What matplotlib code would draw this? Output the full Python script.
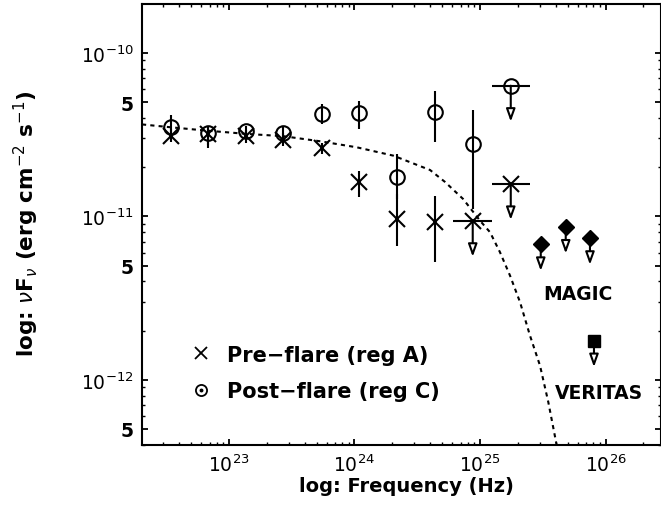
import numpy as np
import matplotlib
matplotlib.use('Agg')
import matplotlib.pyplot as plt
from matplotlib.ticker import FixedLocator, LogLocator, NullFormatter

# values: log10(frequency / Hz), flux in units of 1e-11 erg cm^-2 s^-1
pre_lognu = [22.535, 22.835, 23.135, 23.433, 23.739, 24.036, 24.336, 24.641]
pre_flux = [3.12, 3.20, 3.12, 2.95, 2.61, 1.62, 0.966, 0.92]
pre_hi = [3.43, 3.43, 3.38, 3.24, 2.82, 1.905, 1.375, 1.34]
pre_lo = [2.86, 2.62, 2.82, 2.70, 2.41, 1.31, 0.661, 0.525]
pre_ul_lognu = [24.942, 25.245]
pre_ul_flux = [0.94, 1.58]
pre_ul_halfbin = [0.155, 0.153]

post_lognu = [22.535, 22.835, 23.135, 23.433, 23.739, 24.036, 24.336, 24.641, 24.942]
post_flux = [3.52, 3.23, 3.32, 3.25, 4.24, 4.28, 1.74, 4.38, 2.77]
post_hi = [4.18, 3.53, 3.58, 3.53, 4.87, 5.08, 2.41, 5.87, 4.50]
post_lo = [2.94, 2.74, 2.94, 2.98, 3.68, 3.43, 1.28, 2.86, 1.11]
post_ul_lognu = [25.245]
post_ul_flux = [6.31]
post_ul_halfbin = [0.153]

magic_lognu = [25.484, 25.683, 25.876]
magic_flux = [0.679, 0.867, 0.740]
veritas_lognu = [25.908]
veritas_flux = [0.173]

# dashed model curve (log10 values)
model_lognu = [22.307, 22.530, 22.822, 23.141, 23.433, 23.725, 24.018, 24.309, 24.602,
               24.721, 24.865, 25.000, 25.080, 25.159, 25.239, 25.319, 25.398, 25.478,
               25.544, 25.606, 25.625]
model_logf = [-10.437, -10.454, -10.475, -10.495, -10.509, -10.540, -10.577, -10.628, -10.716,
              -10.789, -10.893, -11.026, -11.097, -11.219, -11.362, -11.525, -11.729, -11.913,
              -12.136, -12.381, -12.46]

xticks = [1e23, 1e24, 1e25, 1e26]
xticklabels = [r'$10^{23}$', r'$10^{24}$', r'$10^{25}$', r'$10^{26}$']
yticks = [5e-13, 1e-12, 5e-12, 1e-11, 5e-11, 1e-10]
yticklabels = ['5', r'$10^{-12}$', '5', r'$10^{-11}$', '5', r'$10^{-10}$']

UNIT = 1e-11
LW = 1.5


def ul_arrow(ax, nu, f, drop):
    ax.annotate('', xy=(nu, f / 10**drop), xytext=(nu, f),
                arrowprops=dict(arrowstyle='-|>,head_length=0.75,head_width=0.27',
                                facecolor='white', edgecolor='black', lw=LW,
                                shrinkA=0, shrinkB=0, mutation_scale=10))


fig = plt.figure(figsize=(6.61, 5.10), dpi=100)
ax = fig.add_axes([142 / 661, 1 - 446 / 510, 519 / 661, 441 / 510])

# model curve
ax.plot(10**np.array(model_lognu), 10**np.array(model_logf), color='black', lw=1.5,
        linestyle=(0, (2.0, 2.0)), zorder=1)

# pre-flare
x = 10**np.array(pre_lognu)
y = np.array(pre_flux) * UNIT
ax.errorbar(x, y, yerr=[y - np.array(pre_lo) * UNIT, np.array(pre_hi) * UNIT - y],
            fmt='none', ecolor='black', elinewidth=LW, capsize=0, zorder=2)
ax.plot(x, y, 'x', color='black', ms=11.5, mew=LW, zorder=3)

# post-flare
x = 10**np.array(post_lognu)
y = np.array(post_flux) * UNIT
ax.errorbar(x, y, yerr=[y - np.array(post_lo) * UNIT, np.array(post_hi) * UNIT - y],
            fmt='none', ecolor='black', elinewidth=LW, capsize=0, zorder=2)
ax.plot(x, y, 'o', mfc='none', mec='black', ms=10.5, mew=LW, zorder=3)

# upper limits with bin widths
for lognu, flux, hb, mk in [(pre_ul_lognu, pre_ul_flux, pre_ul_halfbin, 'x'),
                            (post_ul_lognu, post_ul_flux, post_ul_halfbin, 'o')]:
    lognu = np.array(lognu)
    x = 10**lognu
    y = np.array(flux) * UNIT
    xerr = [x - 10**(lognu - np.array(hb)), 10**(lognu + np.array(hb)) - x]
    ax.errorbar(x, y, xerr=xerr, fmt='none', ecolor='black', elinewidth=LW, capsize=0, zorder=2)
    if mk == 'x':
        ax.plot(x, y, 'x', color='black', ms=11.5, mew=LW, zorder=3)
    else:
        ax.plot(x, y, 'o', mfc='none', mec='black', ms=10.5, mew=LW, zorder=3)
    for xi, yi in zip(x, y):
        ul_arrow(ax, xi, yi, 0.22)

# MAGIC and VERITAS upper limits
x = 10**np.array(magic_lognu)
y = np.array(magic_flux) * UNIT
for xi, yi in zip(x, y):
    ul_arrow(ax, xi, yi, 0.165)
ax.plot(x, y, 'D', color='black', ms=8.5, zorder=4)

x = 10**np.array(veritas_lognu)
y = np.array(veritas_flux) * UNIT
for xi, yi in zip(x, y):
    ul_arrow(ax, xi, yi, 0.16)
ax.plot(x, y, 's', color='black', ms=8, zorder=4)

ax.text(0.839, 0.331, 'MAGIC', transform=ax.transAxes, ha='center', va='baseline',
        fontsize=13.5, fontweight='bold')
ax.text(0.881, 0.106, 'VERITAS', transform=ax.transAxes, ha='center', va='baseline',
        fontsize=13.5, fontweight='bold')

# hand made legend
ax.plot([0.113], [0.208], 'x', color='black', ms=8, mew=1.3, transform=ax.transAxes)
ax.plot([0.113], [0.124], 'o', mfc='none', mec='black', ms=8, mew=1.3, transform=ax.transAxes)
ax.plot([0.113], [0.124], 'o', color='black', ms=1.8, transform=ax.transAxes)
ax.text(0.163, 0.191, 'Pre\u2212flare (reg A)', transform=ax.transAxes, va='baseline',
        fontsize=15, fontweight='bold')
ax.text(0.163, 0.108, 'Post\u2212flare (reg C)', transform=ax.transAxes, va='baseline',
        fontsize=15, fontweight='bold')

# axes
ax.set_xscale('log')
ax.set_yscale('log')
ax.set_xlim(10**22.307, 10**26.442)
ax.set_ylim(10**-12.399, 10**-9.70)

ax.xaxis.set_major_locator(FixedLocator(xticks))
ax.set_xticklabels(xticklabels)
ax.xaxis.set_minor_locator(LogLocator(base=10, subs=np.arange(2, 10), numticks=20))
ax.xaxis.set_minor_formatter(NullFormatter())
ax.yaxis.set_major_locator(FixedLocator(yticks))
ax.set_yticklabels(yticklabels)
ax.yaxis.set_minor_locator(LogLocator(base=10, subs=np.arange(2, 10), numticks=20))
ax.yaxis.set_minor_formatter(NullFormatter())

ax.tick_params(which='both', direction='in', top=True, right=True, labelsize=13.5)
ax.tick_params(which='major', length=4.5, width=1.3, pad=6)
ax.tick_params(which='minor', length=2.5, width=1.0)
for lbl in ax.get_yticklabels():
    if lbl.get_text() == '5':
        lbl.set_fontweight('bold')
for sp in ax.spines.values():
    sp.set_linewidth(1.5)

fig.text(406 / 661, 1 - 487 / 510, 'log: Frequency (Hz)', ha='center', va='center',
         fontsize=14, fontweight='bold')
fig.text(26 / 661, 1 - 224 / 510, r'log: $\nu$F$_\nu$ (erg cm$^{-2}$ s$^{-1}$)',
         ha='center', va='center', rotation=90, fontsize=15.5, fontweight='bold')

fig.savefig('out.png', dpi=100)
